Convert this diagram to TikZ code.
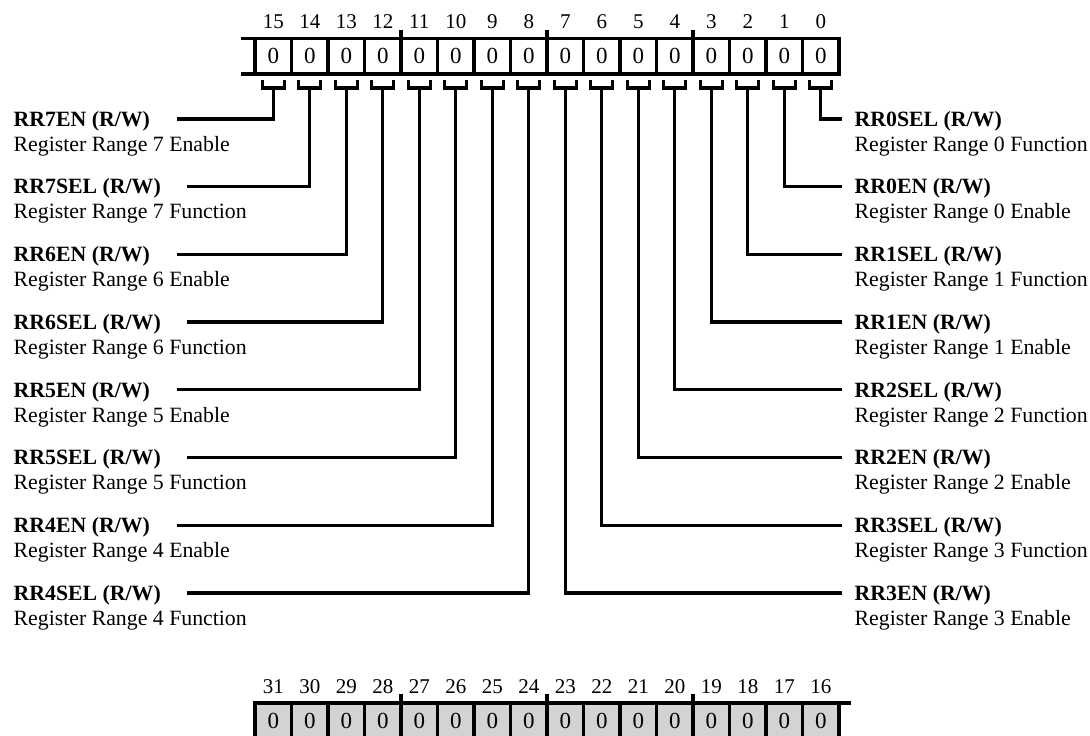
\documentclass[tikz,border=0pt]{standalone}
\usepackage{fontspec}
\setmainfont{Liberation Serif}
\definecolor{regG}{RGB}{211,211,211}
\begin{document}
\begin{tikzpicture}[x=1pt,y=-1pt,line width=3.3pt,
  cell/.style={draw,minimum width=36.5pt,minimum height=35.5pt,inner sep=0pt,outer sep=0pt,font=\fontsize{23}{23}\selectfont},
  bitno/.style={anchor=base,inner sep=0pt,font=\fontsize{21}{21}\selectfont},
  ttl/.style={anchor=west,inner sep=0pt,text height=14.4pt,text depth=0pt,font=\fontsize{21.8}{22}\selectfont\bfseries},
  dsc/.style={anchor=base west,inner sep=0pt,font=\fontsize{21.8}{22}\selectfont},
  wire/.style={line join=miter}]
\useasboundingbox (0,0) rectangle (1090,736);
\foreach \bitn [count=\k from 0] in {15,14,...,0} {
  \node[cell] (c\bitn) at (273.25+36.5*\k,56.25) {0};
  \node[bitno] (n\bitn) at (273.25+36.5*\k,28) {\bitn};
  \coordinate (s\bitn) at (273.25+36.5*\k,88);
  \draw[wire] (262.25+36.5*\k,80) -- ++(0,8) -- ++(22,0) -- ++(0,-8);
}
\foreach \bitn [count=\k from 0] in {31,30,...,16} {
  \node[cell,fill=regG] (c\bitn) at (273.25+36.5*\k,720.75) {0};
  \node[bitno] (n\bitn) at (273.25+36.5*\k,693) {\bitn};
}
\draw (c15.north west) -- ++(-14,0); \draw (c15.south west) -- ++(-14,0);
\draw (c16.north east) -- ++(12,0);
\foreach \bitn in {11,7,3,27,23,19} \draw (c\bitn.north west) -- ++(0,-9);
\foreach \bitn/\nm/\txt [count=\j from 0] in {15/RR7EN/Register Range 7 Enable,14/RR7SEL/Register Range 7 Function,13/RR6EN/Register Range 6 Enable,12/RR6SEL/Register Range 6 Function,11/RR5EN/Register Range 5 Enable,10/RR5SEL/Register Range 5 Function,9/RR4EN/Register Range 4 Enable,8/RR4SEL/Register Range 4 Function} {
  \node[ttl] (t\bitn) at (12,119+67.7*\j) {\nm\ (R/W)};
  \node[dsc] (d\bitn) at ([yshift=-25pt]t\bitn.base west) {\txt};
  \draw[wire] ([xshift=25pt]t\bitn.east) -| (s\bitn);
}
\foreach \bitn/\nm/\txt [count=\j from 0] in {0/RR0SEL/Register Range 0 Function,1/RR0EN/Register Range 0 Enable,2/RR1SEL/Register Range 1 Function,3/RR1EN/Register Range 1 Enable,4/RR2SEL/Register Range 2 Function,5/RR2EN/Register Range 2 Enable,6/RR3SEL/Register Range 3 Function,7/RR3EN/Register Range 3 Enable} {
  \node[ttl] (t\bitn) at (853,119+67.7*\j) {\nm\ (R/W)};
  \node[dsc] (d\bitn) at ([yshift=-25pt]t\bitn.base west) {\txt};
  \draw[wire] (s\bitn) |- ([xshift=-11pt]t\bitn.west);
}
\end{tikzpicture}
\end{document}
